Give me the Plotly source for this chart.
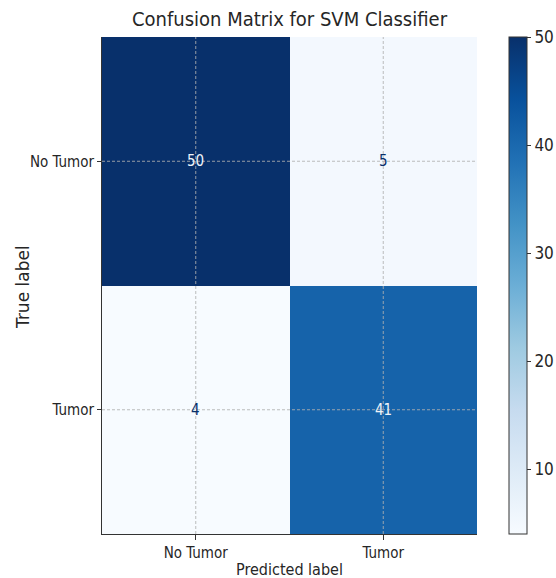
import plotly.graph_objects as go

true_labels = ["No Tumor", "Tumor"]
pred_labels = ["No Tumor", "Tumor"]
counts = [[50, 5],
          [4, 41]]
title_text = "Confusion Matrix for SVM Classifier"
cbar_ticks = [10, 20, 30, 40, 50]

blues = ['rgb(247,251,255)', 'rgb(222,235,247)', 'rgb(198,219,239)', 'rgb(158,202,225)',
         'rgb(107,174,214)', 'rgb(66,146,198)', 'rgb(33,113,181)', 'rgb(8,81,156)', 'rgb(8,48,107)']
cscale = [[i / (len(blues) - 1), c] for i, c in enumerate(blues)]

NARROW = "DejaVu Sans Condensed, DejaVu Sans, sans-serif"
REG = "DejaVu Sans, sans-serif"
TXT = "#262626"

W, H = 556, 578
ML, MR, MT, MB = 102, 0, 37, 44
pw = W - ML - MR
ph = H - MT - MB
plot_right = 477
cbar_left = 509

zmin = min(min(r) for r in counts)
zmax = max(max(r) for r in counts)

fig = go.Figure(go.Heatmap(
    z=counts, x=pred_labels, y=true_labels,
    colorscale=cscale, zmin=zmin, zmax=zmax,
    showscale=True,
    colorbar=dict(
        thickness=18, len=1.0, lenmode="fraction", y=0.5, yanchor="middle",
        x=(cbar_left - ML) / pw, xanchor="left", xpad=0, ypad=0,
        outlinecolor="#333333", outlinewidth=1,
        ticks="outside", ticklen=4, tickcolor="#333333",
        tickvals=cbar_ticks, tickfont=dict(family=NARROW, size=17, color=TXT),
    ),
    hoverinfo="skip",
))

annotations = []
for i, t in enumerate(true_labels):
    for j, p in enumerate(pred_labels):
        v = counts[i][j]
        col = "#eef3f9" if v > (zmin + zmax) / 2 else "#08306b"
        annotations.append(dict(x=p, y=t, xref="x", yref="y", text=str(v), showarrow=False,
                                font=dict(family=NARROW, size=15, color=col)))

annotations.append(dict(text="Predicted label", xref="paper", yref="paper",
                        x=((ML + plot_right) / 2 - ML) / pw, y=-(569 - (H - MB)) / ph,
                        xanchor="center", yanchor="middle", showarrow=False,
                        font=dict(family=NARROW, size=16, color=TXT)))
annotations.append(dict(text="True label", xref="paper", yref="paper",
                        x=(23 - ML) / pw, y=0.5 - (287 - (MT + ph / 2)) / ph,
                        xanchor="center", yanchor="middle", showarrow=False, textangle=-90,
                        font=dict(family=REG, size=17, color=TXT)))

shapes = []
grid_line = dict(color="rgba(176,176,176,0.85)", width=1, dash="3px,2px")
for p in pred_labels:
    shapes.append(dict(type="line", xref="x", yref="paper", x0=p, x1=p, y0=0, y1=1,
                       line=grid_line, layer="above"))
for t in true_labels:
    shapes.append(dict(type="line", xref="x domain", yref="y", x0=0, x1=1, y0=t, y1=t,
                       line=grid_line, layer="above"))

fig.update_layout(
    width=W, height=H,
    margin=dict(l=ML, r=MR, t=MT, b=MB, autoexpand=False),
    paper_bgcolor="white", plot_bgcolor="white",
    title=dict(text=title_text, x=((ML + plot_right) / 2) / W, xref="container", xanchor="center",
               y=1 - 19 / H, yanchor="middle",
               font=dict(family=NARROW, size=20, color=TXT)),
    xaxis=dict(type="category", domain=[0, (plot_right - ML) / pw], showgrid=False, zeroline=False,
               showline=True, linecolor="#333333", linewidth=1, automargin=False,
               ticks="outside", ticklen=5, tickcolor="#333333",
               tickfont=dict(family=NARROW, size=15, color=TXT)),
    yaxis=dict(type="category", autorange="reversed", showgrid=False, zeroline=False, showline=True,
               linecolor="#333333", linewidth=1, automargin=False,
               ticks="outside", ticklen=4, tickcolor="#333333",
               tickfont=dict(family=NARROW, size=15, color=TXT)),
    annotations=annotations, shapes=shapes,
)

fig.write_html("out.html", config={"displayModeBar": False},
               post_script="document.body.style.margin='0';document.body.style.overflow='hidden';")
